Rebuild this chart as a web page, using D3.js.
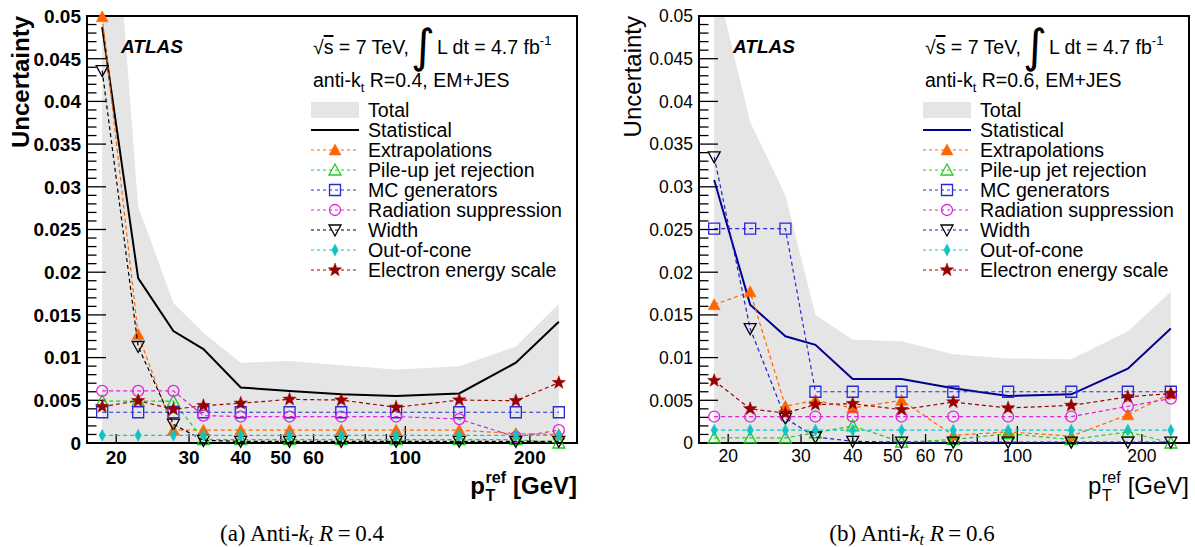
<!DOCTYPE html>
<html><head><meta charset="utf-8">
<script src="https://cdn.jsdelivr.net/npm/d3@7"></script>
<style>body{margin:0;background:#fff}svg{display:block}</style>
</head><body><svg id="c" width="1195" height="547"></svg>
<script>
// ---------- data ----------
const ptRef = [18.5, 22.6, 27.5, 32.5, 40, 52.5, 70, 95, 135, 185, 235];
const yTickValues = [0, 0.005, 0.01, 0.015, 0.02, 0.025, 0.03, 0.035, 0.04, 0.045, 0.05];
const yTickLabels = ["0", "0.005", "0.01", "0.015", "0.02", "0.025", "0.03", "0.035", "0.04", "0.045", "0.05"];
const xTickValues = [20, 30, 40, 50, 60, 70, 80, 90, 100, 200];
const xTickLabelsA = [20, 30, 40, 50, 60, 100, 200];
const xTickLabelsB = [20, 30, 40, 50, 60, 70, 100, 200];
const legendNames = ["Total", "Statistical", "Extrapolations", "Pile-up jet rejection", "MC generators",
  "Radiation suppression", "Width", "Out-of-cone", "Electron energy scale"];

// anti-kt R=0.4
const totalA   = [0.083, 0.0277, 0.0164, 0.0129, 0.0094, 0.0096, 0.0091, 0.0086, 0.0090, 0.0113, 0.0163];
const statA    = [0.0487, 0.0193, 0.0131, 0.0110, 0.0065, 0.0061, 0.0057, 0.0055, 0.0058, 0.0094, 0.0142];
const extrapA  = [0.0499, 0.0127, 0.0015, 0.0015, 0.0015, 0.0015, 0.0015, 0.0015, 0.0015, 0.0011, 0.0010];
const pileupA  = [0.0049, 0.0049, 0.0049, 0.0004, 0.0004, 0.0004, 0.0004, 0.0004, 0.0004, 0.0004, 0.0000];
const mcA      = [0.0036, 0.0036, 0.0036, 0.0036, 0.0036, 0.0036, 0.0036, 0.0036, 0.0036, 0.0036, 0.0036];
const radA     = [0.0061, 0.0061, 0.0061, 0.0032, 0.0031, 0.0031, 0.0031, 0.0031, 0.0028, 0.0007, 0.0015];
const widthA   = [0.0436, 0.0113, 0.0022, 0.0003, 0.0002, 0.0002, 0.0002, 0.0002, 0.0002, 0.0002, 0.0002];
const oocA     = [0.0009, 0.0009, 0.0009, 0.0009, 0.0009, 0.0009, 0.0009, 0.0009, 0.0009, 0.0009, 0.0009];
const eesA     = [0.00425, 0.00495, 0.00394, 0.00437, 0.00465, 0.00511, 0.00503, 0.00418, 0.00503, 0.00495, 0.00706];

// anti-kt R=0.6
const totalB   = [0.055, 0.0376, 0.0290, 0.0150, 0.0121, 0.0119, 0.0104, 0.0099, 0.0098, 0.0131, 0.0177];
const statB    = [0.0308, 0.0162, 0.0125, 0.0115, 0.0075, 0.0075, 0.0064, 0.0055, 0.0057, 0.0087, 0.0134];
const extrapB  = [0.0162, 0.0177, 0.0043, 0.0050, 0.0041, 0.0050, 0.0009, 0.0013, 0.0008, 0.0033, 0.0058];
const pileupB  = [0.0006, 0.0006, 0.0006, 0.0012, 0.0020, 0.0001, 0.0004, 0.0011, 0.0004, 0.0013, 0.0000];
const mcB      = [0.0251, 0.0251, 0.0251, 0.0060, 0.0060, 0.0060, 0.0060, 0.0060, 0.0060, 0.0060, 0.0060];
const radB     = [0.0031, 0.0031, 0.0031, 0.0031, 0.0031, 0.0031, 0.0031, 0.0031, 0.0031, 0.0043, 0.0052];
const widthB   = [0.0335, 0.0134, 0.0029, 0.0007, 0.0002, 0.0001, 0.0001, 0.0001, 0.0001, 0.0001, 0.0001];
const oocB     = [0.0015, 0.0015, 0.0015, 0.0015, 0.0015, 0.0015, 0.0015, 0.0015, 0.0015, 0.0015, 0.0015];
const eesB     = [0.0073, 0.0040, 0.0035, 0.0045, 0.0046, 0.0039, 0.0048, 0.0041, 0.0044, 0.0054, 0.0058];

// ---------- drawing ----------
const SANS = "'Liberation Sans', Arial, Helvetica, sans-serif";
const SERIF = "'Liberation Serif', 'Times New Roman', serif";
const svg = d3.select("#c");
svg.append("rect").attr("width", 1195).attr("height", 547).attr("fill", "#fff");

function markerPath(type) {
  switch (type) {
    case "triUp": return "M0,-6L6,5L-6,5Z";
    case "triDown": return "M0,6L6,-5L-6,-5Z";
    case "square": return "M-5.5,-5.5h11v11h-11Z";
    case "circle": return "M5.5,0A5.5,5.5 0 1,1 -5.5,0A5.5,5.5 0 1,1 5.5,0Z";
    case "diamond": return "M0,-6L3.2,0L0,6L-3.2,0Z";
    case "star": {
      let p = "";
      for (let i = 0; i < 10; i++) {
        const r = i % 2 === 0 ? 7 : 2.9;
        const a = -Math.PI / 2 + i * Math.PI / 5;
        p += (i ? "L" : "M") + (r * Math.cos(a)).toFixed(2) + "," + (r * Math.sin(a)).toFixed(2);
      }
      return p + "Z";
    }
  }
}

function drawPanel(cfg) {
  const ox = cfg.ox;
  const L = 87 + ox, R = 577 + ox, T = 16, B = 443;
  const fw = cfg.bold ? "bold" : "normal";
  const x = d3.scaleLog().domain([17, 260]).range([L, R]);
  const y = d3.scaleLinear().domain([0, 0.05]).range([B, T]);
  const g = svg.append("g");
  const clipId = "clip" + cfg.id;
  svg.append("defs").append("clipPath").attr("id", clipId)
    .append("rect").attr("x", L).attr("y", T).attr("width", R - L).attr("height", B - T);

  // total band
  g.append("path").datum(ptRef.map((p, i) => [p, cfg.total[i]]))
    .attr("clip-path", `url(#${clipId})`)
    .attr("fill", "#e5e5e5")
    .attr("d", d3.area().x(d => x(d[0])).y0(y(0)).y1(d => y(d[1])));

  // frame
  g.append("rect").attr("x", L).attr("y", T).attr("width", R - L).attr("height", B - T)
    .attr("fill", "none").attr("stroke", "#000").attr("stroke-width", 2);

  // y ticks
  const yMinor = d3.range(0, 51).map(i => i * 0.001);
  g.selectAll(null).data(yMinor).enter().append("line")
    .attr("x1", L).attr("x2", d => L + (Math.round(d * 1000) % 5 === 0 ? 19 : 9.5))
    .attr("y1", d => y(d)).attr("y2", d => y(d))
    .attr("stroke", "#000").attr("stroke-width", 1.3);
  g.selectAll(null).data(yTickValues).enter().append("text")
    .attr("x", L - 6).attr("y", d => y(d)).attr("dy", "0.36em")
    .attr("text-anchor", "end").attr("font-family", SANS).attr("font-weight", fw)
    .attr("font-size", cfg.bold ? 19 : 17.5)
    .text((d, i) => yTickLabels[i]);

  // x ticks
  g.selectAll(null).data(xTickValues).enter().append("line")
    .attr("x1", d => x(d)).attr("x2", d => x(d))
    .attr("y1", B).attr("y2", d => B - (d === 100 ? 17 : 9))
    .attr("stroke", "#000").attr("stroke-width", 1.3);
  g.selectAll(null).data(cfg.xLabels).enter().append("text")
    .attr("x", d => x(d)).attr("y", cfg.bold ? 464 : 462)
    .attr("text-anchor", "middle").attr("font-family", SANS).attr("font-weight", fw)
    .attr("font-size", cfg.bold ? 19 : 17.5)
    .text(d => d);

  // axis titles
  g.append("text").attr("transform", `translate(${29 + ox},16) rotate(-90)`)
    .attr("text-anchor", "end").attr("font-family", SANS).attr("font-weight", fw)
    .attr("font-size", 24).text("Uncertainty");

  const gev = g.append("text").attr("x", R).attr("y", 494).attr("text-anchor", "end")
    .attr("font-family", SANS).attr("font-weight", fw).attr("font-size", 24).text("[GeV]");
  const gevStart = R - gev.node().getComputedTextLength();
  const ref = g.append("text").attr("y", 483).attr("font-family", SANS).attr("font-weight", fw)
    .attr("font-size", 16).text("ref");
  const refW = ref.node().getComputedTextLength();
  const refX = gevStart - 7 - refW;
  ref.attr("x", refX);
  g.append("text").attr("x", refX).attr("y", 501).attr("font-family", SANS).attr("font-weight", fw)
    .attr("font-size", 16).text("T");
  g.append("text").attr("x", refX - 0.5).attr("y", 494).attr("text-anchor", "end")
    .attr("font-family", SANS).attr("font-weight", fw).attr("font-size", 24).text("p");

  // series
  const series = [
    {v: cfg.extrap, col: "#ff6600", line: "#ff6600", m: "triUp", fill: true},
    {v: cfg.pileup, col: "#22cc22", line: "#22cc22", m: "triUp", fill: false},
    {v: cfg.mc, col: "#2a2ad8", line: "#2a2ad8", m: "square", fill: false},
    {v: cfg.rad, col: "#dd22dd", line: "#dd22dd", m: "circle", fill: false},
    {v: cfg.width, col: "#000000", line: cfg.widthLine, m: "triDown", fill: false},
    {v: cfg.ooc, col: "#11c4c4", line: "#11c4c4", m: "diamond", fill: true},
    {v: cfg.ees, col: "#990000", line: "#990000", m: "star", fill: true}
  ];
  const line = d3.line().x(d => x(d[0])).y(d => y(d[1]));

  // statistical
  g.append("path").datum(ptRef.map((p, i) => [p, cfg.stat[i]]))
    .attr("clip-path", `url(#${clipId})`)
    .attr("fill", "none").attr("stroke", cfg.statColor).attr("stroke-width", 2).attr("d", line);

  series.forEach(s => {
    g.append("path").datum(ptRef.map((p, i) => [p, s.v[i]]))
      .attr("clip-path", `url(#${clipId})`)
      .attr("fill", "none").attr("stroke", s.line).attr("stroke-width", 1.2)
      .attr("stroke-dasharray", "4,3").attr("d", line);
    g.selectAll(null).data(ptRef.map((p, i) => [p, s.v[i]])).enter().append("path")
      .attr("transform", d => `translate(${x(d[0])},${y(d[1])})`)
      .attr("d", markerPath(s.m))
      .attr("fill", s.fill ? s.col : "none")
      .attr("stroke", s.col).attr("stroke-width", s.fill ? 0.5 : 1.3);
  });

  // labels
  g.append("text").attr("x", 121 + ox).attr("y", 53).attr("font-family", SANS)
    .attr("font-weight", "bold").attr("font-style", "italic").attr("font-size", 19).text("ATLAS");

  const t1 = g.append("text").attr("x", 313 + ox).attr("y", 54).attr("font-family", SANS).attr("font-size", 19.5);
  t1.append("tspan").text("√");
  t1.append("tspan").attr("text-decoration", "overline").text("s");
  t1.append("tspan").text(" = 7 TeV,");
  g.append("text").attr("x", 411 + ox).attr("y", 62).attr("font-family", "'DejaVu Sans', sans-serif")
    .attr("font-size", 46).text("∫");
  const t2 = g.append("text").attr("x", 437 + ox).attr("y", 54).attr("font-family", SANS).attr("font-size", 19.5);
  t2.append("tspan").text("L dt = 4.7 fb");
  t2.append("tspan").attr("dy", -9).attr("font-size", 13).text("-1");

  const t3 = g.append("text").attr("x", 313 + ox).attr("y", 87).attr("font-family", SANS).attr("font-size", 19.5);
  t3.append("tspan").text("anti-k");
  t3.append("tspan").attr("dy", 5).attr("font-size", 13).text("t");
  t3.append("tspan").attr("dy", -5).text(" R=" + cfg.R + ", EM+JES");

  // legend
  const lx0 = 311 + ox, lx1 = 359 + ox, lxm = 335 + ox, ltx = 368 + ox;
  legendNames.forEach((name, i) => {
    const cy = 110 + i * 20;
    if (i === 0) {
      g.append("rect").attr("x", lx0).attr("y", cy - 8).attr("width", lx1 - lx0).attr("height", 16).attr("fill", "#e5e5e5");
    } else if (i === 1) {
      g.append("line").attr("x1", lx0).attr("x2", lx1).attr("y1", cy).attr("y2", cy)
        .attr("stroke", cfg.statColor).attr("stroke-width", 2);
    } else {
      const s = series[i - 2];
      g.append("line").attr("x1", lx0).attr("x2", lx1).attr("y1", cy).attr("y2", cy)
        .attr("stroke", s.line).attr("stroke-width", 1.1).attr("stroke-dasharray", "3,3");
      g.append("path").attr("transform", `translate(${lxm},${cy})`).attr("d", markerPath(s.m))
        .attr("fill", s.fill ? s.col : "#fff").attr("fill-opacity", s.fill ? 1 : 0)
        .attr("stroke", s.col).attr("stroke-width", s.fill ? 0.5 : 1.3);
    }
    g.append("text").attr("x", ltx).attr("y", cy + 6.5).attr("font-family", SANS)
      .attr("font-size", 19.6).text(name);
  });

  // caption
  const cap = svg.append("text").attr("x", cfg.capX).attr("y", 541).attr("text-anchor", "middle")
    .attr("font-family", SERIF).attr("font-size", 23);
  cap.append("tspan").text(cfg.capLetter + " Anti-");
  cap.append("tspan").attr("font-style", "italic").text("k");
  cap.append("tspan").attr("font-style", "italic").attr("font-size", 16).attr("dy", 4).text("t");
  cap.append("tspan").attr("dy", -4).text(" ");
  cap.append("tspan").attr("font-style", "italic").text("R");
  cap.append("tspan").text("\u2009=\u2009" + cfg.R);
}

drawPanel({id: "A", ox: 0, bold: true, statColor: "#000000", widthLine: "#000000", R: "0.4",
  capLetter: "(a)", capX: 302, xLabels: xTickLabelsA,
  total: totalA, stat: statA, extrap: extrapA, pileup: pileupA, mc: mcA, rad: radA, width: widthA, ooc: oocA, ees: eesA});
drawPanel({id: "B", ox: 612, bold: false, statColor: "#000090", widthLine: "#1f1fc8", R: "0.6",
  capLetter: "(b)", capX: 912, xLabels: xTickLabelsB,
  total: totalB, stat: statB, extrap: extrapB, pileup: pileupB, mc: mcB, rad: radB, width: widthB, ooc: oocB, ees: eesB});
</script></body></html>
